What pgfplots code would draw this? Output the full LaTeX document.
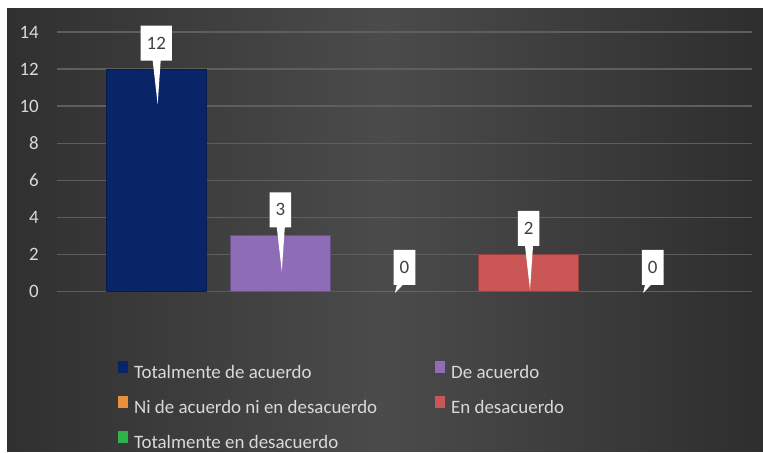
\documentclass[border=0pt]{standalone}
\usepackage{pgfplots}
\pgfplotsset{compat=1.18}
\usepackage{fontspec}
\setmainfont{Carlito}
\usetikzlibrary{shapes.callouts}
\definecolor{bgl}{HTML}{303030}
\definecolor{bgm}{HTML}{4B4B4B}
\definecolor{bgr}{HTML}{2E2E2E}
\definecolor{gridc}{HTML}{5E5E5E}
\definecolor{c1}{HTML}{0A2468}
\definecolor{c2}{HTML}{8E6CB6}
\definecolor{c3}{HTML}{E8903A}
\definecolor{c4}{HTML}{CB5656}
\definecolor{c5}{HTML}{2DB34C}
\definecolor{txt}{HTML}{D9D9D9}
\definecolor{labt}{HTML}{404040}
\tikzset{
  labbase/.style={rectangle callout, fill=white, text=labt, font=\fontsize{19}{22}\selectfont,
    anchor=center, callout pointer width=8bp,
    inner xsep=6bp, inner ysep=0pt, minimum height=35bp, text height=12bp, text depth=0pt},
  lab/.style={labbase, yshift=26bp, callout relative pointer={(1bp,-44bp)}},
  labz/.style={labbase, yshift=24bp, callout pointer width=6bp, callout relative pointer={(-3bp,-8bp)}}
}
\begin{document}
\begin{tikzpicture}[x=1bp,y=1bp]
\fill[white] (0,0) rectangle (763,452);
\shade[left color=bgl,right color=bgr,middle color=bgm] (7,0) rectangle (763,443);
\begin{axis}[
  at={(57bp,160.5bp)}, anchor=south west, scale only axis,
  width=695bp, height=259.5bp,
  xmin=-0.8, xmax=4.8, ymin=0, ymax=14, ytick={0,2,...,14}, xtick=\empty,
  axis line style={draw=none}, major tick length=0pt,
  ymajorgrids, grid style={draw=gridc, line width=1.3bp},
  ybar, bar width=100bp,
  /pgf/number format/assume math mode=true,
  tick label style={font=\fontsize{19}{22}\selectfont, text=txt},
  yticklabel style={inner sep=0pt, xshift=-18bp},
  clip=false,
  legend columns=2, legend cell align=left,
  legend image code/.code={\fill[#1] (0bp,0.5bp) rectangle (10bp,12.5bp);},
  legend style={at={(axis description cs:0.0878,-0.2697)}, anchor=north west,
    draw=none, fill=none, inner sep=0pt, outer sep=0pt,
    column sep=6bp, row sep=14bp,
    font=\fontsize{19}{22}\selectfont, text=txt,
    nodes={inner sep=0pt, text height=13bp, text depth=4bp},
    /tikz/every even column/.append style={column sep=58bp}},
]
\addplot[forget plot, fill=c1, draw=c1!75!black, line width=1bp, bar shift=0pt, nodes near coords, every node near coord/.append style={lab}] coordinates {(0,12)};
\addplot[forget plot, fill=c2, draw=c2!75!black, line width=1bp, bar shift=0pt, nodes near coords, every node near coord/.append style={lab}] coordinates {(1,3)};
\addplot[forget plot, fill=c3, draw=none, bar shift=0pt, nodes near coords, every node near coord/.append style={labz}] coordinates {(2,0)};
\addplot[forget plot, fill=c4, draw=c4!75!black, line width=1bp, bar shift=0pt, nodes near coords, every node near coord/.append style={lab}] coordinates {(3,2)};
\addplot[forget plot, fill=c5, draw=none, bar shift=0pt, nodes near coords, every node near coord/.append style={labz}] coordinates {(4,0)};
\addlegendimage{fill=c1, draw=none}\addlegendentry{Totalmente de acuerdo}
\addlegendimage{fill=c2, draw=none}\addlegendentry{De acuerdo}
\addlegendimage{fill=c3, draw=none}\addlegendentry{Ni de acuerdo ni en desacuerdo}
\addlegendimage{fill=c4, draw=none}\addlegendentry{En desacuerdo}
\addlegendimage{fill=c5, draw=none}\addlegendentry{Totalmente en desacuerdo}
\end{axis}
\end{tikzpicture}
\end{document}
